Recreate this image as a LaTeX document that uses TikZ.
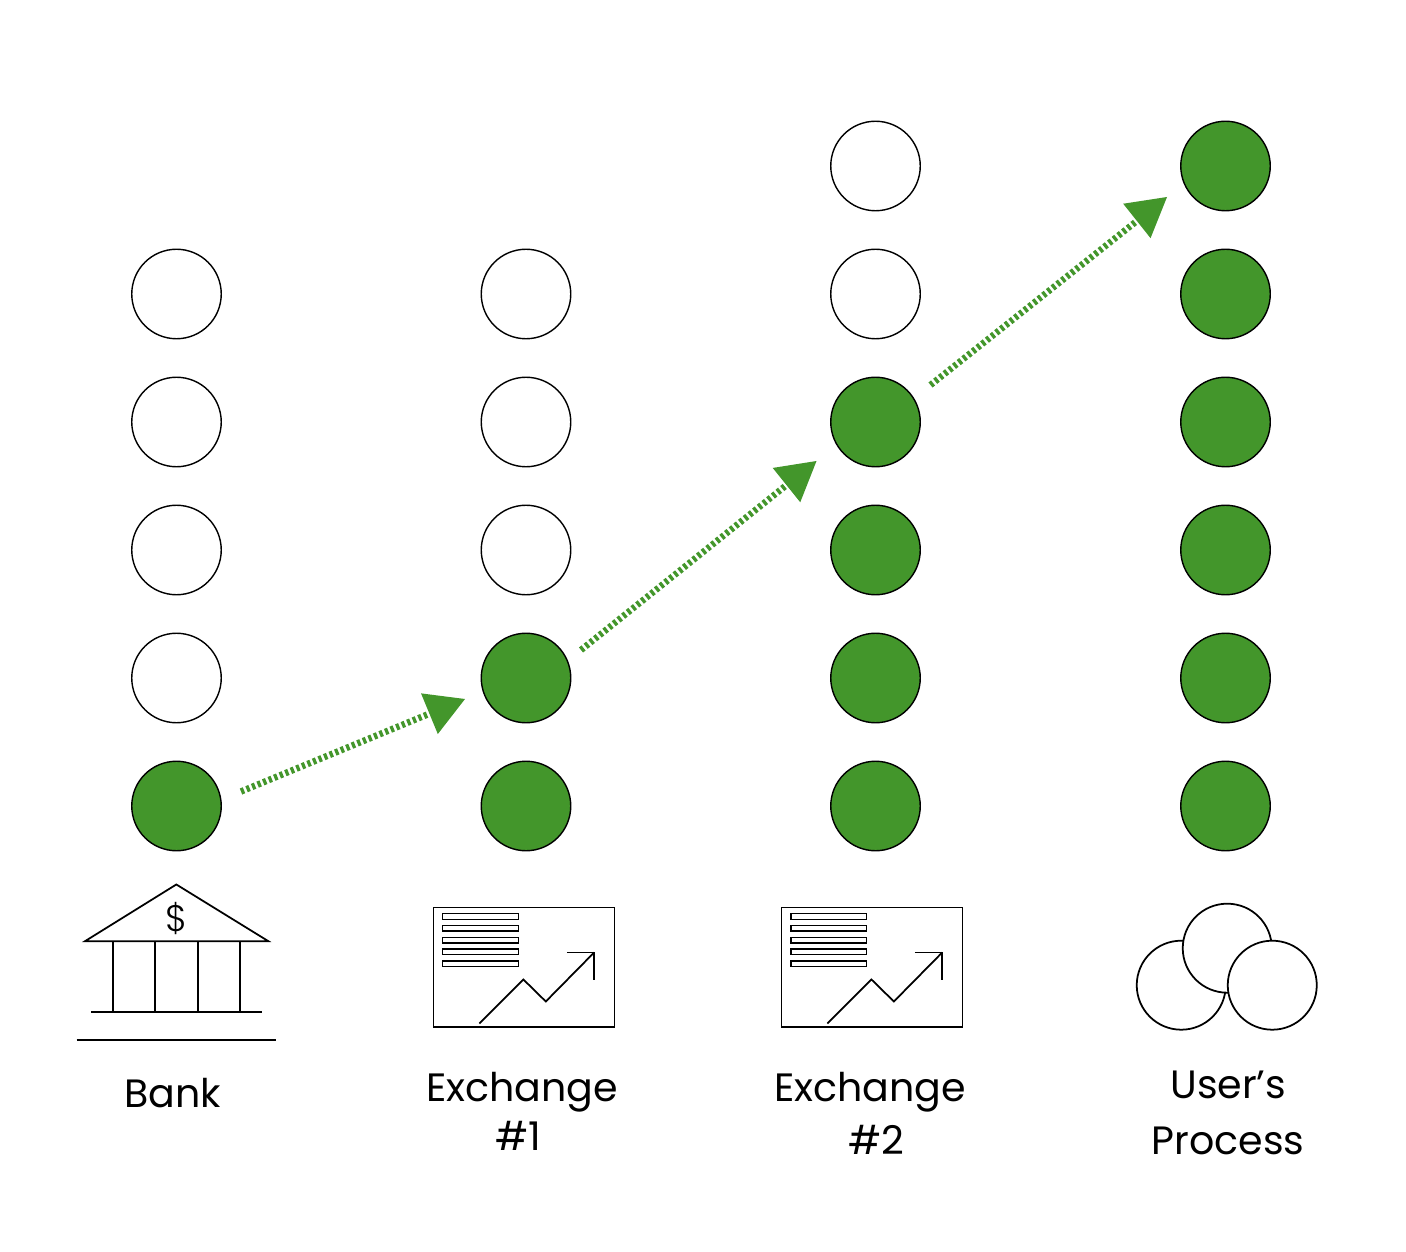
\documentclass[tikz,border=0pt]{standalone}
\usepackage{fontspec}
\setmainfont{Poppins}
\newfontfamily\thinfont{Poppins Light}
\usepackage{tikz}
\usetikzlibrary{arrows.meta,automata}

\definecolor{tokengreen}{HTML}{43962B}

\begin{document}
\begin{tikzpicture}[node distance=2.56cm,thick]
  \tikzstyle{every state}=[minimum size=1.79cm,inner sep=0pt,fill=white,draw=black,text=black]
  \tikzstyle{full}=[fill=tokengreen]
  \tikzstyle{hop}=[tokengreen,line width=.13cm,dash pattern=on .065cm off .055cm,
                   -{Triangle[length=.77cm,width=.88cm,line width=0pt]}]
  \tikzstyle{caption}=[font=\fontsize{22.5}{22.5}\selectfont,inner sep=0pt,anchor=base]
  \tikzstyle{icon}=[x=.02cm,y=-.02cm,line width=1pt]

  \useasboundingbox (0,0) rectangle (28.12,-25.04);

  \node[state]      (A2) at (3.53,-5.88) {};
  \node[state]      (A3) [below of=A2] {};
  \node[state]      (A4) [below of=A3] {};
  \node[state]      (A5) [below of=A4] {};
  \node[state,full] (A6) [below of=A5] {};

  \node[state]      (B2) at (10.52,-5.88) {};
  \node[state]      (B3) [below of=B2] {};
  \node[state]      (B4) [below of=B3] {};
  \node[state,full] (B5) [below of=B4] {};
  \node[state,full] (B6) [below of=B5] {};

  \node[state]      (C2) at (17.51,-5.88) {};
  \node[state]      (C1) [above of=C2] {};
  \node[state,full] (C3) [below of=C2] {};
  \node[state,full] (C4) [below of=C3] {};
  \node[state,full] (C5) [below of=C4] {};
  \node[state,full] (C6) [below of=C5] {};

  \node[state,full] (D2) at (24.51,-5.88) {};
  \node[state,full] (D1) [above of=D2] {};
  \node[state,full] (D3) [below of=D2] {};
  \node[state,full] (D4) [below of=D3] {};
  \node[state,full] (D5) [below of=D4] {};
  \node[state,full] (D6) [below of=D5] {};

  \coordinate (s1) at ([shift={(1.29,.29)}]A6.center);
  \coordinate (t1) at ([shift={(-1.22,-.42)}]B5.center);
  \coordinate (s2) at ([shift={(1.10,.56)}]B5.center);
  \coordinate (t2) at ([shift={(-1.18,-.78)}]C3.center);
  \coordinate (s3) at ([shift={(1.10,.74)}]C3.center);
  \coordinate (t3) at ([shift={(-1.17,-.62)}]D1.center);

  \draw[hop] (s1) -- (t1);
  \draw[hop] (s2) -- (t2);
  \draw[hop] (s3) -- (t3);

  % bank
  \begin{scope}[icon]
    \draw (85,941) -- (176.3,884.3) -- (268.3,941) -- cycle;
    \draw (112.7,941) -- (112.7,1011.7);
    \draw (155,941) -- (155,1011.7);
    \draw (197.7,941) -- (197.7,1011.7);
    \draw (240,941) -- (240,1011.7);
    \draw (91,1011.7) -- (261.7,1011.7);
    \draw (76.7,1040) -- (276,1040);
    \node (dollar) at (176.3,918) {\fontsize{21}{21}\thinfont \$};
  \end{scope}

  % exchange charts
  \foreach \dx in {0,348} {
    \begin{scope}[icon,xshift=\dx*.02cm]
      \draw (433.3,907.3) rectangle (614.3,1027);
      \foreach \y in {916.3,928,940,951.7,963.7}
        \draw[line width=.8pt] (442.7,\y-2.8) rectangle (518.3,\y+2.8);
      \draw (479.3,1023.3) -- (523.3,979.3) -- (545.7,1001.3) -- (594,952.3);
      \draw (566.7,952.3) -- (594,952.3) -- (594,980);
    \end{scope}
  }

  % process
  \begin{scope}[icon]
    \draw[fill=white] (1181,985) circle (44.5);
    \draw[fill=white] (1227,948) circle (44.5);
    \draw[fill=white] (1272,985) circle (44.5);
  \end{scope}

  \begin{scope}[icon]
    \node[caption] (bank)  at (173,1107)  {Bank};
    \node[caption] (ex1)   at (522,1101)  {Exchange};
    \node[caption] (num1)  at (518,1150)  {\#1};
    \node[caption] (ex2)   at (870,1101)  {Exchange};
    \node[caption] (num2)  at (876,1154)  {\#2};
    \node[caption] (user)  at (1228,1098) {User’s};
    \node[caption] (proc)  at (1228,1154) {Process};
  \end{scope}
\end{tikzpicture}
\end{document}
